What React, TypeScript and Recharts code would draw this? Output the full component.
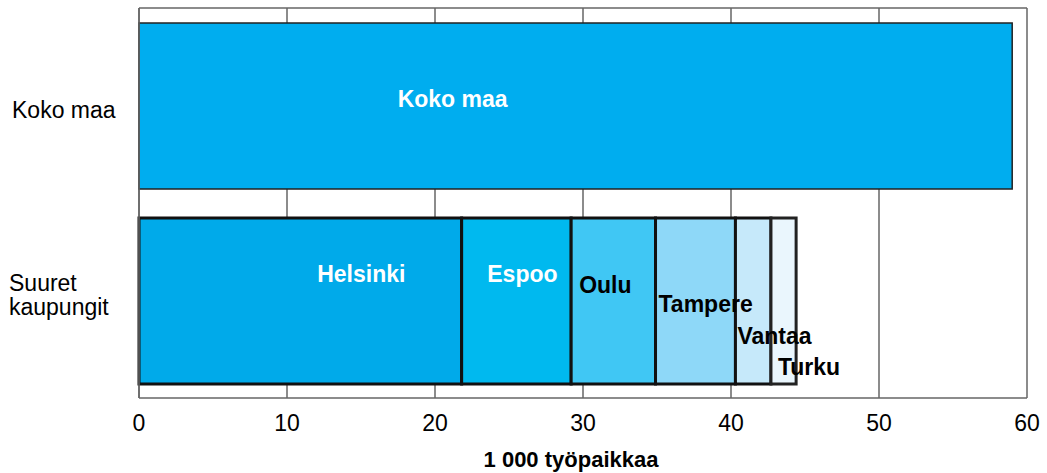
import React from "react";
import {
  BarChart,
  Bar,
  XAxis,
  YAxis,
  CartesianGrid,
  LabelList,
  Rectangle,
} from "recharts";

// values in 1 000 jobs
const categories = ["Koko maa", "Suuret kaupungit"];
const kokoMaaValues = [59.0, 0];
const cityNames = ["Helsinki", "Espoo", "Oulu", "Tampere", "Vantaa", "Turku"];
const cityValues = [21.8, 7.4, 5.7, 5.4, 2.4, 1.7];
const xTicks = [0, 10, 20, 30, 40, 50, 60];
const axisTitle = "1 000 työpaikkaa";

const data = categories.map((name, i) => {
  const row: Record<string, any> = { name, "Koko maa": kokoMaaValues[i] };
  cityNames.forEach((c, j) => {
    row[c] = i === 1 ? cityValues[j] : 0;
  });
  return row;
});

const FONT = "'Liberation Sans', Arial, sans-serif";

// look of each segment and where its name sits
const styles: Record<string, any> = {
  "Koko maa": { fill: "#00ADEF", stroke: "#222", sw: 1.5, color: "#fff", anchor: "middle", dx: -123, dy: 84 },
  Helsinki: { fill: "#00AAEA", stroke: "#111", sw: 3, color: "#fff", anchor: "middle", dx: 61, dy: 64 },
  Espoo: { fill: "#00B9EF", stroke: "#111", sw: 3, color: "#fff", anchor: "middle", dx: 6, dy: 64 },
  Oulu: { fill: "#40C7F4", stroke: "#111", sw: 3, color: "#000", anchor: "start", dx: 8, dy: 75 },
  Tampere: { fill: "#8ED8F8", stroke: "#111", sw: 3, color: "#000", anchor: "start", dx: 3, dy: 94 },
  Vantaa: { fill: "#C6E9FA", stroke: "#111", sw: 3, color: "#000", anchor: "start", dx: 2, dy: 126 },
  Turku: { fill: "#EAF6FD", stroke: "#222", sw: 3, color: "#000", anchor: "start", dx: 7, dy: 157 },
};

const BarShape = (props: any) =>
  props.width > 0.5 ? <Rectangle {...props} /> : null;

const makeLabel = (name: string) => (props: any) => {
  const { x, y, width } = props;
  if (!(width > 0.5)) return null;
  const s = styles[name];
  const bx = s.anchor === "middle" ? x + width / 2 : x;
  return (
    <text
      x={bx + s.dx}
      y={y + s.dy}
      textAnchor={s.anchor}
      fill={s.color}
      fontSize={23}
      fontWeight="bold"
      fontFamily={FONT}
    >
      {name}
    </text>
  );
};

const CategoryTick = (props: any) => {
  const { y, payload } = props;
  const lines =
    payload.value === "Suuret kaupungit" ? ["Suuret", "kaupungit"] : [payload.value];
  const start = lines.length > 1 ? -9.5 : 12.5;
  return (
    <text x={10} y={y} fontSize={23} fontFamily={FONT} fill="#000" textAnchor="start">
      {lines.map((l, i) => (
        <tspan key={l} x={lines.length > 1 ? 9 : 12} y={y + start + i * 24}>
          {l}
        </tspan>
      ))}
    </text>
  );
};

const series = [...cityNames, "Koko maa"];

export default function App() {
  return (
    <div style={{ position: "absolute", left: 0, top: 0, background: "#fff" }}>
      <BarChart
        width={1047}
        height={473}
        data={data}
        layout="vertical"
        margin={{ top: 8, right: 20, bottom: 0, left: 0 }}
        barSize={166}
      >
        <CartesianGrid
          stroke="#666"
          strokeWidth={1.5}
          horizontalPoints={[8]}
        />
        <XAxis
          type="number"
          domain={[0, 60]}
          ticks={xTicks}
          height={75}
          tickLine={false}
          tickMargin={11}
          axisLine={{ stroke: "#666", strokeWidth: 1.5 }}
          tick={{ fontSize: 23, fontFamily: FONT, fill: "#000" }}
          label={{
            content: (p: any) => {
              const vb = p.viewBox || {};
              return (
                <text
                  x={vb.x + vb.width / 2 - 12}
                  y={467}
                  textAnchor="middle"
                  fontSize={22}
                  fontWeight="bold"
                  fontFamily={FONT}
                  fill="#000"
                >
                  {axisTitle}
                </text>
              );
            },
          }}
        />
        <YAxis
          type="category"
          dataKey="name"
          width={139}
          tickLine={false}
          axisLine={{ stroke: "#666", strokeWidth: 1.5 }}
          tick={<CategoryTick />}
        />
        {series.map((name) => (
          <Bar
            key={name}
            dataKey={name}
            stackId="a"
            fill={styles[name].fill}
            stroke={styles[name].stroke}
            strokeWidth={styles[name].sw}
            shape={BarShape}
            isAnimationActive={false}
          >
            <LabelList dataKey={name} content={makeLabel(name)} />
          </Bar>
        ))}
      </BarChart>
    </div>
  );
}
